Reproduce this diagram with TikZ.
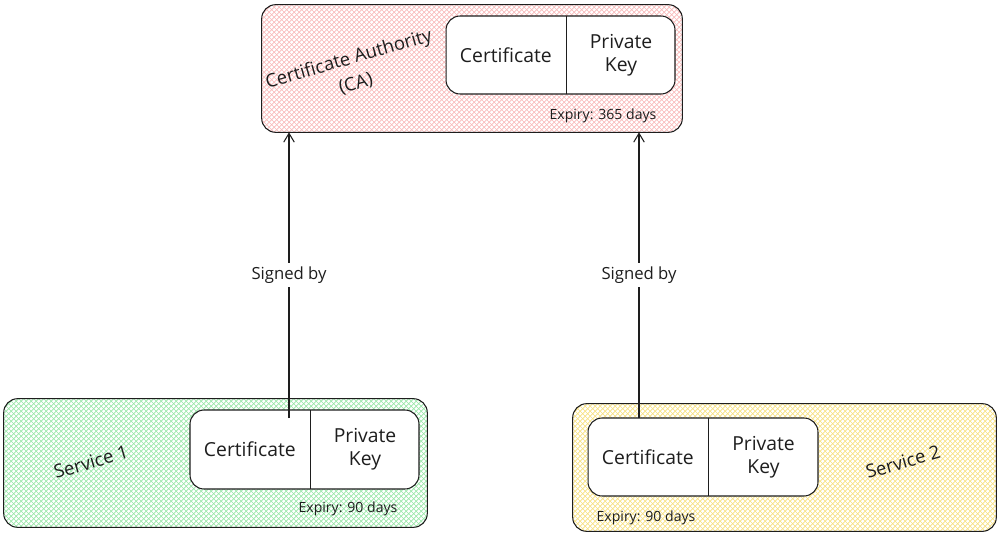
\documentclass[tikz,border=0pt]{standalone}
\usepackage{fontspec}
\setmainfont{Open Sans}
\usetikzlibrary{positioning, calc, arrows.meta}

\definecolor{inkc}{HTML}{1E1E1E}
\definecolor{capink}{HTML}{F8B8B8}
\definecolor{svcgreen}{HTML}{96E6A6}
\definecolor{svcyellow}{HTML}{F7E07E}

\tikzset{
  outerbox/.style={inner sep=0pt, minimum width=8.46cm, minimum height=2.56cm},
  boxline/.style={draw=inkc, line width=0.6pt, rounded corners=8pt},
  pairbox/.style={draw=inkc, fill=white, line width=0.6pt, rounded corners=8pt, minimum width=4.58cm, minimum height=1.56cm},
  part/.style={inner sep=0pt, minimum height=1.56cm, align=center, font=\fontsize{11}{13}\selectfont, text=inkc},
  note/.style={font=\fontsize{8}{10}\selectfont, text=inkc},
  boxlabel/.style={font=\fontsize{10.5}{12.5}\selectfont, text=inkc, rotate=16, inner sep=1pt},
  sigline/.style={draw=inkc, line width=0.6pt, -{Straight Barb[length=5pt,width=6pt]}},
  siglabel/.style={fill=white, font=\fontsize{9.5}{12}\selectfont, text=inkc, inner sep=2pt}
}

% cross hatch inside a box node, then its outline
\newcommand\hatchbox[2]{%
  \begin{scope}
    \clip[rounded corners=8pt] (#1.south west) rectangle (#1.north east);
    \coordinate (hnw) at (#1.north west);
    \foreach \k in {-150,-145,...,580}
      \draw[#2, line width=0.35pt] ($(hnw)+(\k,0)$) -- ++(150,150) ($(hnw)+(\k,0)$) -- ++(-150,150);
  \end{scope}
  \draw[boxline] (#1.south west) rectangle (#1.north east);}

\begin{document}
\begin{tikzpicture}[x=0.02cm, y=-0.02cm]
\useasboundingbox (0,0) rectangle (1000,537);

% certificate authority
\node[outerbox, minimum width=8.4cm, minimum height=2.54cm] (ca) at (472,68.5) {};
\hatchbox{ca}{capink}
\node[boxlabel] (calabel) at (349,60) {Certificate Authority};
\node[boxlabel] (cacaption) at (356,84) {(CA)};
\node[pairbox] (capair) at (560.5,55) {};
\node[part, minimum width=2.4cm, anchor=west] (cacert) at (capair.west) {Certificate};
\node[part, minimum width=2.18cm, right=0pt of cacert] (cakey) {Private\\Key};
\draw[inkc, line width=0.6pt] (cacert.north east) -- (cacert.south east);
\node[note] (caexp) at (603,116) {Expiry: 365 days};

% service 1
\node[outerbox] (svca) at (215.5,463) {};
\hatchbox{svca}{svcgreen}
\node[boxlabel] (svcalabel) at (91,462) {Service 1};
\node[pairbox, minimum height=1.58cm] (svcapair) at (304.5,449.5) {};
\node[part, minimum width=2.4cm, anchor=west] (svcacert) at (svcapair.west) {Certificate};
\node[part, minimum width=2.18cm, right=0pt of svcacert] (svcakey) {Private\\Key};
\draw[inkc, line width=0.6pt] (svcacert.north east) -- (svcacert.south east);
\node[note] (svcaexp) at (348,509) {Expiry: 90 days};

% service 2
\node[outerbox, minimum height=2.54cm] (svcb) at (784.5,467.5) {};
\hatchbox{svcb}{svcyellow}
\node[boxlabel] (svcblabel) at (903,462) {Service 2};
\node[pairbox, minimum width=4.6cm] (svcbpair) at (703,457) {};
\node[part, minimum width=2.4cm, anchor=west] (svcbcert) at (svcbpair.west) {Certificate};
\node[part, minimum width=2.2cm, right=0pt of svcbcert] (svcbkey) {Private\\Key};
\draw[inkc, line width=0.6pt] (svcbcert.north east) -- (svcbcert.south east);
\node[note] (svcbexp) at (646,518) {Expiry: 90 days};

% signatures
\coordinate (siga) at (289,418);
\coordinate (sigb) at (639,418);
\draw[sigline] (siga) -- node[siglabel] {Signed by} (siga |- ca.south);
\draw[sigline] (sigb) -- node[siglabel] {Signed by} (sigb |- ca.south);
\end{tikzpicture}
\end{document}
